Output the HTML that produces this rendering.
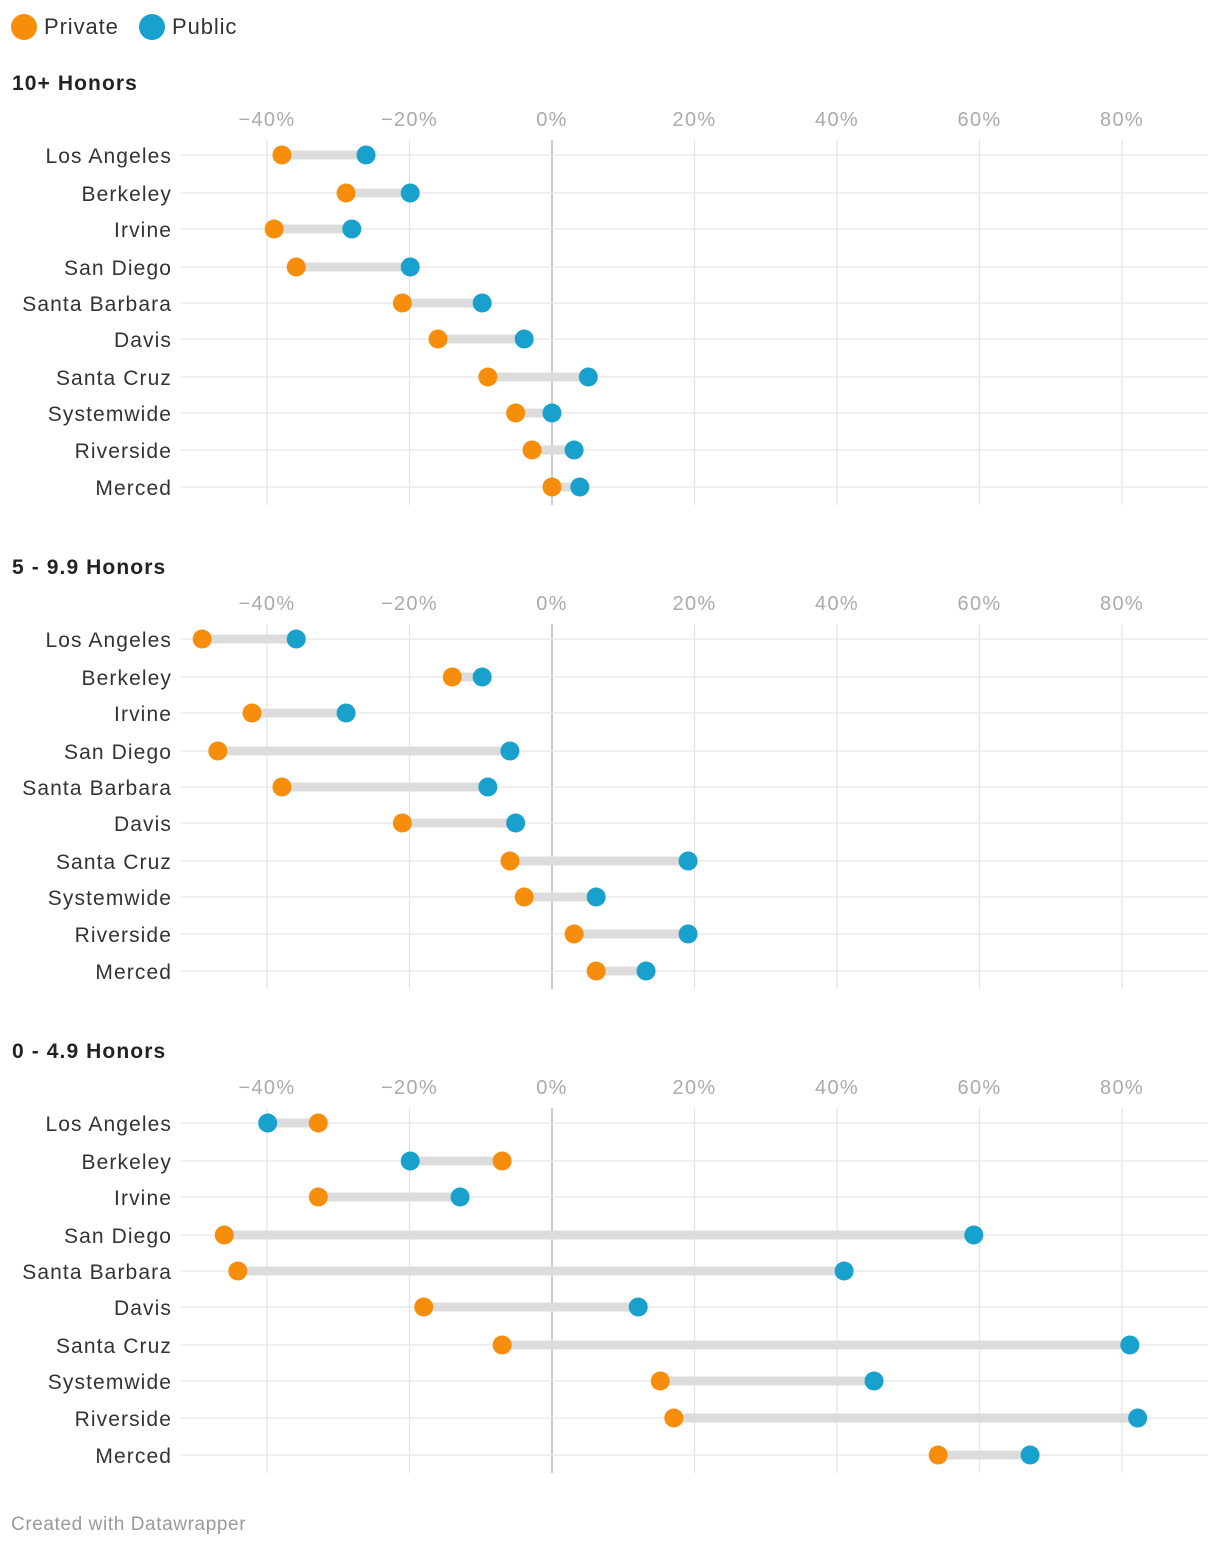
<!DOCTYPE html>
<html><head><meta charset="utf-8"><style>
body{margin:0;background:#fff;font-family:"Liberation Sans",sans-serif;}
svg text{font-family:"Liberation Sans",sans-serif;}
</style></head><body>
<svg id="c" width="1220" height="1546">
<g>
<circle cx="24" cy="27" r="13" fill="#f68e0b"/>
<text x="44" y="34" font-size="22" fill="#333" letter-spacing="0.9">Private</text>
<circle cx="152" cy="27" r="13" fill="#18a1cd"/>
<text x="172" y="34" font-size="22" fill="#333" letter-spacing="0.9">Public</text>
</g>
<text x="11" y="1530" font-size="19" fill="#999" letter-spacing="0.6">Created with Datawrapper</text>
</svg>
<script>
const categories=["Los Angeles","Berkeley","Irvine","San Diego","Santa Barbara","Davis","Santa Cruz","Systemwide","Riverside","Merced"];
const panelTitles=["10+ Honors","5 - 9.9 Honors","0 - 4.9 Honors"];
const ticks=[-40,-20,0,20,40,60,80];
const privateVals=[
[-37.9,-28.9,-39,-35.9,-21,-16,-9,-5.1,-2.8,0],
[-49.1,-14,-42.1,-46.9,-37.9,-21,-5.9,-3.9,3.1,6.2],
[-32.8,-7,-32.8,-46,-44.1,-18,-7,15.2,17.1,54.2]];
const publicVals=[
[-26.1,-19.9,-28.1,-19.9,-9.8,-3.9,5.1,0,3.1,3.9],
[-35.9,-9.8,-28.9,-5.9,-9,-5.1,19.1,6.2,19.1,13.2],
[-39.9,-19.9,-12.9,59.2,41,12.1,81.1,45.2,82.2,67.1]];
const NS="http://www.w3.org/2000/svg";
const svg=document.getElementById('c');
const xs=v=>552+v*7.125;
const rowY=[0,38,74,112,148,184,222,258,295,332];
function mk(t,a,p){const e=document.createElementNS(NS,t);for(const k in a)e.setAttribute(k,a[k]);(p||svg).appendChild(e);return e;}
panelTitles.forEach((title,p)=>{
  const off=p*484;
  const g=mk('g',{});
  
  
  const t=mk('text',{x:12,y:90+off,'font-size':21,'font-weight':'bold',fill:'#222','letter-spacing':1.1},g);t.textContent=title;
  
  
  ticks.forEach(v=>{
    const l=mk('line',{x1:xs(v),x2:xs(v),y1:140+off,y2:505+off,stroke:v===0?'#bbb':'#e3e3e3','stroke-width':v===0?1.5:1.2},g);
    
    
    const tx=mk('text',{x:xs(v),y:126+off,'font-size':20,fill:'#aaa','text-anchor':'middle','letter-spacing':1.3},g);
    tx.textContent=(v<0?'\u2212'+(-v):v)+'%';
    
    
  });
  categories.forEach((c,i)=>{
    const y=155+off+rowY[i];
    const rl=mk('line',{x1:180,x2:1208,y1:y,y2:y,stroke:'#e6e6e6','stroke-width':1.2},g);
    
    
    const lb=mk('text',{x:172,y:y+8,'font-size':21,fill:'#333','text-anchor':'end','letter-spacing':1.1},g);lb.textContent=c;
    
    
    const a=privateVals[p][i],b=publicVals[p][i];
    const cn=mk('line',{x1:xs(a),x2:xs(b),y1:y,y2:y,stroke:'#dcdcdc','stroke-width':9},g);
    
    
    const d1=mk('circle',{cx:xs(a),cy:y,r:9.5,fill:'#f68e0b'},g);
    
    
    const d2=mk('circle',{cx:xs(b),cy:y,r:9.5,fill:'#18a1cd'},g);
    
    
  });
});
</script>
</body></html>
